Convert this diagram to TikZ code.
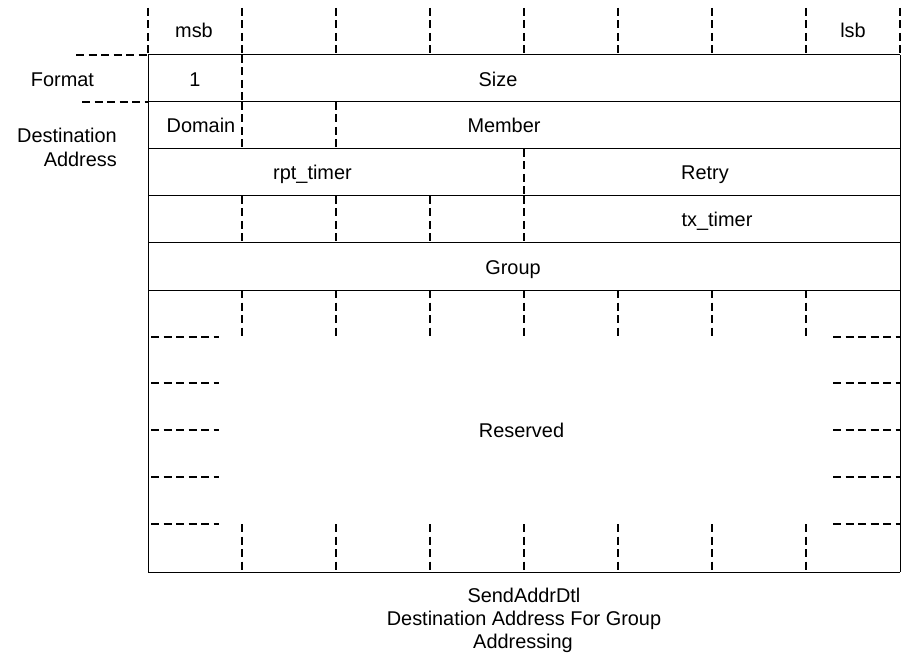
\documentclass[tikz,border=0pt]{standalone}
\usepackage{fontspec}
\setmainfont{Liberation Sans}
\begin{document}
\begin{tikzpicture}[x=1pt,y=-1pt,
  rule/.style={line width=1pt, black},
  sep/.style={line width=2pt, black, dash pattern=on 8pt off 4.5pt},
  lbl/.style={font=\fontsize{19.9}{23}\selectfont, inner sep=0pt, anchor=base},
  side/.style={lbl, anchor=base east},
]
\useasboundingbox (0,0) rectangle (907,660);

% bit columns above the register
\foreach \x in {148,242,336,430,524,618,712,806,900}
  \draw[sep] (\x,8) -- (\x,55);

% register outline and row boundaries
\foreach \y in {55,102,149,196,243,290,572}
  \draw[rule] (148,\y) -- (900,\y);
\draw[rule] (148,55) -- (148,572);
\draw[rule] (900,55) -- (900,572);

% format bracket on the left
\draw[sep] (76,55) -- (148,55);
\draw[sep] (82,102) -- (148,102);

% field separators inside rows
\draw[sep] (242,55) -- (242,102);
\foreach \x in {242,336} \draw[sep] (\x,102) -- (\x,149);
\draw[sep] (524,149) -- (524,196);
\foreach \x in {242,336,430,524} \draw[sep] (\x,196) -- (\x,243);

% reserved block: broken column and row marks
\foreach \x in {242,336,430,524,618,712,806} {
  \draw[sep] (\x,290) -- (\x,337);
  \draw[sep] (\x,524) -- (\x,572);
}
\foreach \y in {337,383,430,477,524} {
  \draw[sep] (151,\y) -- (219,\y);
  \draw[sep] (833,\y) -- (900,\y);
}

% labels
\node[lbl] (msb) at (194,38) {msb};
\node[lbl] (lsb) at (853,38) {lsb};
\node[lbl] (format) at (62.5,87) {Format};
\node[side] (dest1) at (117,143) {Destination};
\node[side] (dest2) at (117,167) {Address};
\node[lbl] (one) at (195,87) {1};
\node[lbl] (size) at (498,87) {Size};
\node[lbl] (domain) at (201,133) {Domain};
\node[lbl] (member) at (504,133) {Member};
\node[lbl] (rpt) at (312.5,180) {rpt\_timer};
\node[lbl] (retry) at (705,180) {Retry};
\node[lbl] (tx) at (717,227) {tx\_timer};
\node[lbl] (group) at (513,274) {Group};
\node[lbl] (reserved) at (521.5,437) {Reserved};
\node[lbl] (cap1) at (524,602) {SendAddrDtl};
\node[lbl] (cap2) at (524,625) {Destination Address For Group};
\node[lbl] (cap3) at (523,648) {Addressing};
\end{tikzpicture}
\end{document}
